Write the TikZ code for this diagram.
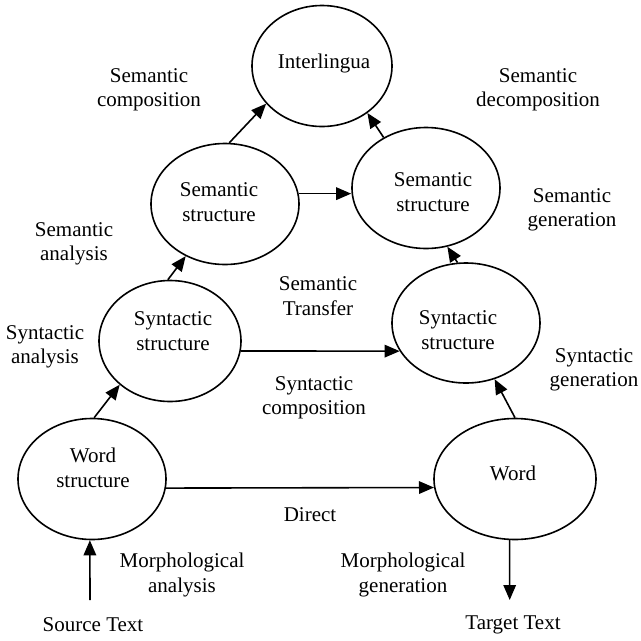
\documentclass[tikz,border=0pt]{standalone}
\usepackage{fontspec}
\setmainfont{Liberation Serif}
\usetikzlibrary{shapes.geometric,arrows.meta}
\tikzset{
  ell/.style={draw, ellipse, line width=1.6pt, inner sep=0pt},
  txt/.style={align=center, font=\fontsize{21}{24.5}\selectfont, inner sep=0pt},
  arr/.style={line width=1.6pt, -{Triangle[length=15pt,width=12.5pt]}}
}
\begin{document}
\begin{tikzpicture}[x=1pt,y=-1pt]
\useasboundingbox (0,0) rectangle (641,641);
% ellipses
\node[ell, minimum width=140pt, minimum height=121pt] (inter) at (322,66) {};
\node[ell, minimum width=148pt, minimum height=121pt] (semL) at (225,204) {};
\node[ell, minimum width=148pt, minimum height=121pt] (semR) at (426,188) {};
\node[ell, minimum width=142pt, minimum height=121pt] (synL) at (170,341) {};
\node[ell, minimum width=148pt, minimum height=120pt] (synR) at (466,323) {};
\node[ell, minimum width=148pt, minimum height=121pt] (wordS) at (92,479) {};
\node[ell, minimum width=162pt, minimum height=121pt] (word) at (515,479) {};
% texts inside
\node[txt] (tInter) at (324,63) {Interlingua};
\node[txt] (tSemL) at (219,202) {Semantic\\structure};
\node[txt] (tSemR) at (433,192) {Semantic\\structure};
\node[txt] (tSynL) at (173,331) {Syntactic\\structure};
\node[txt] (tSynR) at (458,330) {Syntactic\\structure};
\node[txt] (tWordS) at (93,468) {Word\\structure};
\node[txt] (tWord) at (513,473) {Word};
% labels
\node[txt] (lSemComp) at (149,90) {Semantic\\composition};
\node[txt] (lSemDec) at (538,90) {Semantic\\decomposition};
\node[txt] (lSemAn) at (74,244) {Semantic\\analysis};
\node[txt] (lSemGen) at (572,210) {Semantic\\generation};
\node[txt] (lSemTr) at (318,296) {Semantic\\Transfer};
\node[txt] (lSynAn) at (45,347) {Syntactic\\analysis};
\node[txt] (lSynComp) at (314,398) {Syntactic\\composition};
\node[txt] (lSynGen) at (594,370) {Syntactic\\generation};
\node[txt] (lDirect) at (310,515) {Direct};
\node[txt] (lMorAn) at (182,575) {Morphological\\analysis};
\node[txt] (lMorGen) at (403,575) {Morphological\\generation};
\node[txt] (src) at (93,625) {Source Text};
\node[txt] (tgt) at (513,625) {Target Text};
\coordinate (srcend) at (90,600);
\coordinate (tgtend) at (509.7,600);
% arrows
\draw[arr] (semL.86) -- (inter.214);
\draw[arr] (semR.130) -- (inter.314);
\draw[arr] (semL.8) -- (semL.8 -| semR.west);
\draw[arr] (synL.92) -- (semL.233);
\draw[arr] (synR.98) -- (semR.290);
\draw[arr] (synL.-8) -- (synR.203);
\draw[arr] (wordS.88) -- (synL.221);
\draw[arr] (wordS.-7) -- (word.186);
\draw[arr] (word.90) -- (synR.297);
\draw[arr] (srcend) -- (wordS.268);
\draw[arr] (word.265) -- (tgtend);
\end{tikzpicture}
\end{document}
